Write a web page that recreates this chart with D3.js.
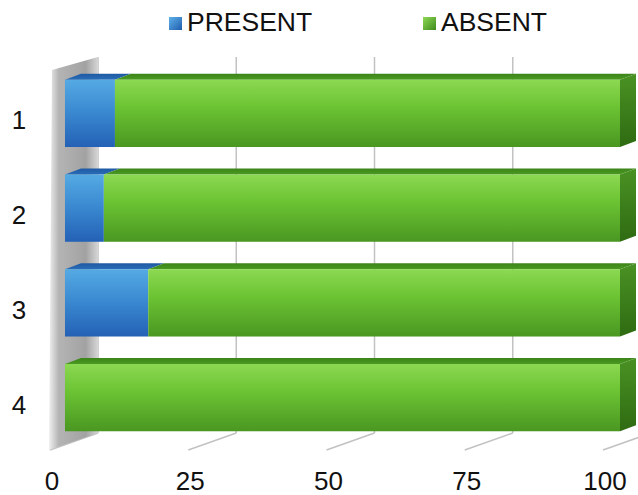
<!DOCTYPE html>
<html>
<head>
<meta charset="utf-8">
<script src="https://cdn.jsdelivr.net/npm/d3@7/dist/d3.min.js"></script>
<style>
  html, body { margin: 0; padding: 0; background: #ffffff; }
  svg { display: block; font-family: "Liberation Sans", Arial, sans-serif; }
</style>
</head>
<body>
<svg id="chart" width="638" height="495"></svg>
<script>
// Category labels (one bar each) and the two stacked series, in percent
const categories = ["1", "2", "3", "4"];
const seriesNames = ["PRESENT", "ABSENT"];
const presentValues = [9, 7, 15, 0];
const absentValues = [91, 93, 85, 100];
const tickValues = [0, 25, 50, 75, 100];

const svg = d3.select("#chart");
const defs = svg.append("defs");

// Oblique 3D offsets: bar depth and the floor/back-wall planes
const depth = { dx: 16, dy: -6 };
const xFront = d3.scaleLinear().domain([0, 100]).range([65, 620]);
const xBack = d3.scaleLinear().domain([0, 100]).range([98, 651]);
const xFloor = d3.scaleLinear().domain([0, 100]).range([50, 603]);
const wallTop = 57, floorBack = 433, floorFront = 450;

const y = d3.scaleBand().domain(categories).range([66, 445])
  .paddingInner(0.29).paddingOuter(0.145);

// Gradients for bar faces
function linGrad(id, stops, x2 = "0", y2 = "1") {
  const g = defs.append("linearGradient").attr("id", id)
    .attr("x1", "0").attr("y1", "0").attr("x2", x2).attr("y2", y2);
  stops.forEach(([o, c]) => g.append("stop").attr("offset", o).attr("stop-color", c));
}
linGrad("blueFront", [[0, "#55aae3"], [0.45, "#3b8bd2"], [1, "#2461b6"]]);
linGrad("greenFront", [[0, "#8cd852"], [0.4, "#6cc433"], [1, "#4a9722"]]);
linGrad("blueTop", [[0, "#1f5aa3"], [1, "#2a6cb8"]]);
linGrad("greenTop", [[0, "#3c8419"], [1, "#4a9a22"]]);
linGrad("greenSide", [[0, "#4a9224"], [1, "#2f6b12"]]);
linGrad("wallGrad", [[0, "#f0f0f0"], [0.2, "#b4b4b4"], [0.75, "#a2a2a2"], [1, "#d6d6d6"]], "1", "0");
linGrad("blueSwatch", [[0, "#5fb2ea"], [1, "#1f5cae"]], "1", "1");
linGrad("greenSwatch", [[0, "#8ed955"], [1, "#3f8a1c"]], "1", "1");

const faceFill = {
  PRESENT: { front: "url(#blueFront)", top: "url(#blueTop)" },
  ABSENT: { front: "url(#greenFront)", top: "url(#greenTop)", side: "url(#greenSide)" }
};

// Back wall gridlines and floor lines
const grid = svg.append("g").attr("stroke", "#c2c2c2").attr("stroke-width", 1.5);
grid.selectAll("line.back").data(tickValues).join("line")
  .attr("class", "back")
  .attr("x1", d => xBack(d)).attr("x2", d => xBack(d))
  .attr("y1", wallTop).attr("y2", floorBack);
grid.selectAll("line.floor").data(tickValues).join("line")
  .attr("class", "floor")
  .attr("x1", d => xBack(d)).attr("y1", floorBack)
  .attr("x2", d => xFloor(d)).attr("y2", floorFront);

// Left side wall
svg.append("path")
  .attr("d", d3.line()([[xFloor(0) + 2, wallTop + 13], [xBack(0), wallTop],
                       [xBack(0), floorBack], [xFloor(0) - 1, floorFront]]) + "Z")
  .attr("fill", "url(#wallGrad)");

// Stacked data
const rows = categories.map((c, i) => {
  const vals = [presentValues[i], absentValues[i]];
  let acc = 0;
  const segs = seriesNames.map((s, j) => {
    const seg = { series: s, x0: acc, x1: acc + vals[j] };
    acc += vals[j];
    return seg;
  }).filter(s => s.x1 > s.x0);
  return { cat: c, segs };
});

const bars = svg.append("g").selectAll("g").data(rows).join("g");
bars.each(function (row) {
  const g = d3.select(this);
  const yt = y(row.cat), yb = yt + y.bandwidth();
  // top faces
  row.segs.forEach(s => {
    const a = xFront(s.x0), b = xFront(s.x1);
    g.append("path")
      .attr("d", d3.line()([[a, yt], [b, yt], [b + depth.dx, yt + depth.dy], [a + depth.dx, yt + depth.dy]]) + "Z")
      .attr("fill", faceFill[s.series].top);
  });
  // right face of the last segment
  const last = row.segs[row.segs.length - 1];
  const r = xFront(last.x1);
  g.append("path")
    .attr("d", d3.line()([[r, yt], [r + depth.dx, yt + depth.dy], [r + depth.dx, yb + depth.dy], [r, yb]]) + "Z")
    .attr("fill", faceFill[last.series].side || "#2f6b12");
  // front faces
  row.segs.forEach(s => {
    g.append("rect")
      .attr("x", xFront(s.x0)).attr("y", yt)
      .attr("width", xFront(s.x1) - xFront(s.x0)).attr("height", y.bandwidth())
      .attr("fill", faceFill[s.series].front);
  });
});

// Category labels
svg.append("g").selectAll("text").data(categories).join("text")
  .attr("x", 19).attr("y", d => y(d) + y.bandwidth() / 2 + 7)
  .attr("text-anchor", "middle").attr("dominant-baseline", "central")
  .attr("font-size", 26).attr("fill", "#111")
  .text(d => d);

// Value axis labels along the floor front edge
svg.append("g").selectAll("text").data(tickValues).join("text")
  .attr("x", d => xFloor(d) + 2).attr("y", 490)
  .attr("text-anchor", "middle")
  .attr("font-size", 26).attr("fill", "#111")
  .text(d => d);

// Legend
const legend = [
  { name: seriesNames[0], swatch: "url(#blueSwatch)", x: 169 },
  { name: seriesNames[1], swatch: "url(#greenSwatch)", x: 423 }
];
const lg = svg.append("g").selectAll("g").data(legend).join("g")
  .attr("transform", d => `translate(${d.x},0)`);
lg.append("rect").attr("x", 0).attr("y", 17).attr("width", 13).attr("height", 13)
  .attr("fill", d => d.swatch);
lg.append("text").attr("x", 18).attr("y", 31)
  .attr("font-size", 26.5).attr("fill", "#111")
  .text(d => d.name);
</script>
</body>
</html>
